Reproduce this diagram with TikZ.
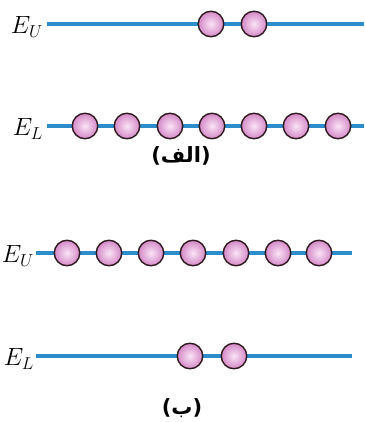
\documentclass[tikz,border=0pt]{standalone}
\usepackage{fontspec}
\newfontfamily\arabicfont[Script=Arabic]{DejaVu Sans}
\TeXXeTstate=1
\definecolor{lineblue}{RGB}{45,140,204}
\definecolor{pinkout}{RGB}{212,136,198}
\definecolor{pinkin}{RGB}{250,228,246}
\definecolor{rimcol}{RGB}{45,25,30}
\tikzset{
  level/.style={draw=lineblue,line width=3.2pt},
  atom/.style={circle,draw=rimcol,line width=1.4pt,minimum size=25.5pt,inner sep=0pt,inner color=pinkin,outer color=pinkout},
  elabel/.style={font=\fontsize{23}{26}\selectfont,inner sep=0pt},
  caption/.style={font=\arabicfont\bfseries\fontsize{21}{24}\selectfont,inner sep=0pt}
}
\begin{document}
\begin{tikzpicture}[x=1pt,y=-1pt]
\useasboundingbox (0,0) rectangle (364,422);
% panel (a)
\coordinate (aUs) at (47,24); \coordinate (aUe) at (364,24);
\coordinate (aLs) at (47,126); \coordinate (aLe) at (364,126);
\draw[level] (aUs) -- (aUe);
\draw[level] (aLs) -- (aLe);
\node[elabel,anchor=east] (aUlab) at (43,27) {$E_U$};
\node[elabel,anchor=east] (aLlab) at (43,129) {$E_L$};
\node[atom] (aU1) at (211,24) {};
\node[atom] (aU2) at (254,24) {};
\foreach \i/\x in {1/85,2/127,3/170,4/212,5/254,6/296,7/338}
  \node[atom] (aL\i) at (\x,126) {};
\node[caption] (capa) at (181,156) {\beginR(الف)\endR};
% panel (b)
\coordinate (bUs) at (36,253); \coordinate (bUe) at (352,253);
\coordinate (bLs) at (36,356); \coordinate (bLe) at (352,356);
\draw[level] (bUs) -- (bUe);
\draw[level] (bLs) -- (bLe);
\node[elabel,anchor=east] (bUlab) at (34,256) {$E_U$};
\node[elabel,anchor=east] (bLlab) at (34,359) {$E_L$};
\foreach \i/\x in {1/67,2/109,3/151,4/193,5/236,6/278,7/319}
  \node[atom] (bU\i) at (\x,253) {};
\node[atom] (bL1) at (190,356) {};
\node[atom] (bL2) at (234,356) {};
\node[caption] (capb) at (182,408) {\beginR(ب)\endR};
\end{tikzpicture}
\end{document}
